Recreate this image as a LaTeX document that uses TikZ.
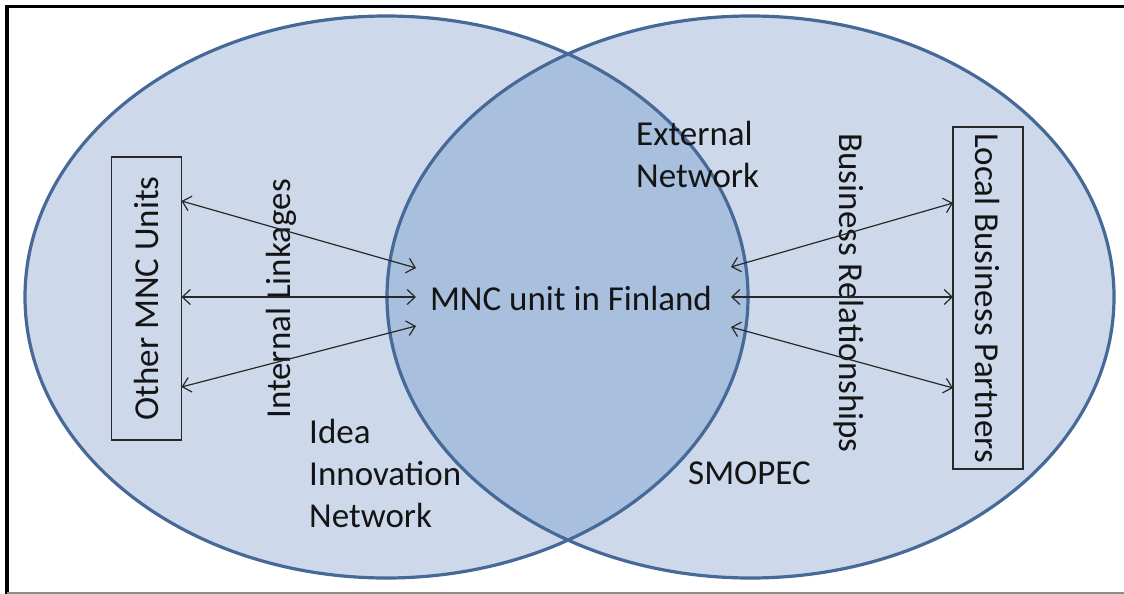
\documentclass[tikz,border=0pt]{standalone}
\usepackage{fontspec}
\setmainfont{Carlito}
\usetikzlibrary{arrows.meta,calc}
\definecolor{ringfill}{RGB}{205,217,234}
\definecolor{corefill}{RGB}{168,191,221}
\definecolor{ringline}{RGB}{70,105,152}
\definecolor{inkline}{RGB}{40,40,40}
\tikzset{
  label text/.style={inner sep=0pt, text=black!92, font=\fontsize{35}{42}\selectfont},
  partnerbox/.style={draw=inkline, line width=1.1pt, inner sep=0pt, fill=none,
    text=black!92, font=\fontsize{35}{42}\selectfont},
  link/.style={draw=inkline, line width=1.2pt,
    {Straight Barb[length=8pt,width=15pt]}-{Straight Barb[length=8pt,width=15pt]}},
  ring/.style={draw=ringline, line width=3.2pt}
}
\begin{document}
\begin{tikzpicture}[x=1pt,y=-1pt]
\useasboundingbox (0,0) rectangle (1124,594);
\fill[white] (0,0) rectangle (1124,594);
% outer frame
\draw[black, line width=3.5pt] (7,594) -- (7,6.5) -- (1124,6.5);
\draw[black!45, line width=1.5pt] (7,593) -- (1124,593);
% the two overlapping networks
\fill[ringfill] (386.5,297) ellipse [x radius=361.5, y radius=281];
\fill[ringfill] (750.5,297) ellipse [x radius=363.5, y radius=281];
\begin{scope}
  \clip (386.5,297) ellipse [x radius=361.5, y radius=281];
  \fill[corefill] (750.5,297) ellipse [x radius=363.5, y radius=281];
\end{scope}
\draw[ring] (386.5,297) ellipse [x radius=361.5, y radius=281];
\draw[ring] (750.5,297) ellipse [x radius=363.5, y radius=281];

% boxes
\node[partnerbox, rotate=90, minimum width=283pt, minimum height=70pt] (other) at (146.5,298.5) {Other MNC Units};
\node[partnerbox, rotate=-90, minimum width=342pt, minimum height=70pt] (local) at (988,298) {Local Business Partners};

% labels
\node[label text] (mnc) at (571,298) {MNC unit in Finland};
\node[label text, rotate=90] (internal) at (281,299) {Internal Linkages};
\node[label text, rotate=-90] (business) at (849,293) {Business Relationships};
\node[label text, align=left, anchor=west] (external) at (636,154) {External\\Network};
\node[label text, align=left, anchor=west] (idea) at (309,473) {Idea\\Innovation\\Network};
\node[label text, anchor=west] (smopec) at (688,473) {SMOPEC};

% link end points
\coordinate (oA) at (181.5,201);
\coordinate (oB) at (181.5,297);
\coordinate (oC) at (181.5,387);
\coordinate (mA) at (416,268);
\coordinate (mB) at (416,297);
\coordinate (mC) at (416,326);
\coordinate (nA) at (731,267);
\coordinate (nB) at (731,297);
\coordinate (nC) at (731,327);
\coordinate (pA) at (953,203);
\coordinate (pB) at (953,297);
\coordinate (pC) at (953,388);

\draw[link] (oA) -- (mA);
\draw[link] (oB) -- (mB);
\draw[link] (oC) -- (mC);
\draw[link] (nA) -- (pA);
\draw[link] (nB) -- (pB);
\draw[link] (nC) -- (pC);
\end{tikzpicture}
\end{document}
